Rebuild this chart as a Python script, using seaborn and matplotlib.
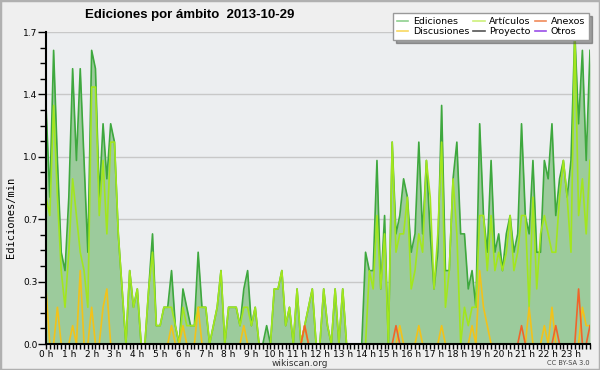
"""Ediciones por ámbito - wikiscan 2013-10-29"""
import numpy as np
import pandas as pd
import matplotlib
matplotlib.use('Agg')
import matplotlib.pyplot as plt
from matplotlib.lines import Line2D
from matplotlib.patches import Rectangle
from matplotlib.ticker import MultipleLocator, FixedLocator
import seaborn as sns

# ediciones por minuto, intervalos de 10 min (144 puntos)
ediciones = [
    1.3, 0.8, 1.6, 1.0, 0.5, 0.4, 0.8, 1.5, 1.0, 1.5, 1.0, 0.5, 1.6, 1.5, 0.8, 1.2, 0.9, 1.2, 1.1, 0.6, 0.3, 0.0, 0.4, 0.2,
    0.3, 0.0, 0.0, 0.3, 0.6, 0.1, 0.1, 0.2, 0.2, 0.4, 0.1, 0.0, 0.3, 0.2, 0.1, 0.1, 0.5, 0.2, 0.2, 0.0, 0.1, 0.2, 0.4, 0.0,
    0.2, 0.2, 0.2, 0.1, 0.3, 0.4, 0.1, 0.2, 0.0, 0.0, 0.1, 0.0, 0.3, 0.3, 0.4, 0.1, 0.2, 0.0, 0.3, 0.0, 0.1, 0.2, 0.3, 0.0,
    0.0, 0.3, 0.1, 0.0, 0.3, 0.0, 0.3, 0.0, 0.0, 0.0, 0.0, 0.0, 0.5, 0.4, 0.4, 1.0, 0.3, 0.7, 0.0, 1.1, 0.6, 0.7, 0.9, 0.8,
    0.5, 0.6, 1.1, 0.6, 1.0, 0.6, 0.3, 0.5, 1.3, 0.4, 0.4, 0.9, 1.1, 0.6, 0.6, 0.3, 0.4, 0.2, 1.2, 0.7, 0.5, 1.0, 0.5, 0.6,
    0.4, 0.6, 0.7, 0.5, 0.6, 1.2, 0.7, 0.6, 1.0, 0.5, 0.5, 1.0, 0.9, 1.2, 0.7, 0.9, 1.0, 0.8, 1.0, 1.7, 1.2, 1.6, 1.0, 1.6,
]
articulos = [
    0.8, 0.7, 1.3, 0.8, 0.4, 0.2, 0.5, 0.9, 0.7, 0.5, 0.4, 0.2, 1.4, 1.4, 0.7, 1.0, 0.6, 1.1, 1.1, 0.6, 0.3, 0.0, 0.4, 0.2,
    0.3, 0.0, 0.0, 0.3, 0.5, 0.1, 0.1, 0.2, 0.2, 0.2, 0.1, 0.0, 0.2, 0.1, 0.1, 0.1, 0.2, 0.2, 0.2, 0.0, 0.1, 0.2, 0.4, 0.0,
    0.2, 0.2, 0.2, 0.1, 0.2, 0.2, 0.1, 0.2, 0.0, 0.0, 0.0, 0.0, 0.3, 0.3, 0.4, 0.1, 0.2, 0.0, 0.3, 0.0, 0.1, 0.2, 0.3, 0.0,
    0.0, 0.3, 0.1, 0.0, 0.3, 0.0, 0.3, 0.0, 0.0, 0.0, 0.0, 0.0, 0.0, 0.4, 0.3, 0.7, 0.3, 0.6, 0.0, 1.1, 0.5, 0.6, 0.6, 0.8,
    0.3, 0.4, 0.6, 0.5, 1.0, 0.8, 0.3, 0.6, 1.1, 0.2, 0.4, 0.9, 0.6, 0.0, 0.2, 0.1, 0.2, 0.2, 0.7, 0.7, 0.4, 0.7, 0.4, 0.5,
    0.4, 0.5, 0.7, 0.4, 0.5, 0.7, 0.7, 0.2, 0.8, 0.3, 0.6, 0.7, 0.6, 0.5, 0.5, 0.8, 1.0, 0.8, 0.5, 1.7, 0.7, 0.9, 0.6, 1.0,
]
discusiones_idx = [0, 3, 7, 9, 12, 15, 16, 33, 36, 40, 52, 68, 93, 98, 104, 112, 114, 115, 116, 127, 131, 133, 141, 142, 143]
discusiones_val = [0.3, 0.2, 0.1, 0.4, 0.2, 0.2, 0.3, 0.1, 0.1, 0.2, 0.1, 0.1, 0.1, 0.1, 0.1, 0.1, 0.4, 0.2, 0.1, 0.2, 0.1, 0.2, 0.2, 0.1, 0.1]
anexos_idx = [68, 92, 125, 134, 140, 143]
anexos_val = [0.1, 0.1, 0.1, 0.1, 0.3, 0.1]

series = ['Proyecto', 'Otros', 'Ediciones', 'Artículos', 'Discusiones', 'Anexos']
colores = {
    'Ediciones': '#3ea83e',
    'Artículos': '#a2e61e',
    'Anexos': '#f0642a',
    'Discusiones': '#f2c21a',
    'Proyecto': '#555555',
    'Otros': '#9a4ee8',
}
colores_leyenda = {
    'Ediciones': '#8fd08f',
    'Artículos': '#cdf07a',
    'Anexos': '#f08a5a',
    'Discusiones': '#f8d860',
    'Proyecto': '#555555',
    'Otros': '#9a4ee8',
}

n = len(ediciones)
horas = np.arange(n) / 6.0
discusiones = np.zeros(n)
discusiones[discusiones_idx] = discusiones_val
anexos = np.zeros(n)
anexos[anexos_idx] = anexos_val

df = pd.DataFrame({
    'hora': np.tile(horas, 6),
    'valor': np.concatenate([np.zeros(n), np.zeros(n), ediciones, articulos, discusiones, anexos]),
    'serie': np.repeat(series, n),
})

fig = plt.figure(figsize=(6.0, 3.7), dpi=100, facecolor='#efefef')
ax = fig.add_axes([46 / 600, 1 - 344 / 370, 544 / 600, 312 / 370])
ax.set_facecolor('#eceef0')

ax.fill_between(horas, ediciones, color='#9ccb9c', lw=0, zorder=1)
sns.lineplot(data=df, x='hora', y='valor', hue='serie', hue_order=series,
             palette=colores, linewidth=1.2, legend=False, ax=ax, zorder=2)

ax.set_xlim(0, horas[-1])
ax.set_ylim(0, 1.7)

# eje y
ax.yaxis.set_major_locator(FixedLocator(np.linspace(0, 1.7, 6)))
ax.yaxis.set_minor_locator(FixedLocator(np.linspace(0, 1.7, 21)))
ax.set_yticklabels([f'{v:.1f}' for v in np.linspace(0, 1.7, 6)])
ax.grid(axis='y', which='major', color='#c8c8c8', lw=1)
ax.set_axisbelow(True)

# eje x
ax.set_xticks(range(24))
ax.set_xticklabels([f'{h} h' for h in range(24)])
ax.xaxis.set_minor_locator(MultipleLocator(1 / 6))

ax.tick_params(axis='y', which='major', length=6, width=1, labelsize=6.5, pad=0, colors='black')
ax.tick_params(axis='y', which='minor', length=4, width=1)
ax.tick_params(axis='x', which='both', length=3.5, width=1, labelsize=6.5, pad=0.5)
for s in ['top', 'right']:
    ax.spines[s].set_visible(False)
for s in ['left', 'bottom']:
    ax.spines[s].set_color('black')
    ax.spines[s].set_linewidth(1.5)
    ax.spines[s].set_zorder(5)

ax.set_xlabel('')
ax.set_ylabel('')
fig.text(11 / 600, 1 - 217 / 370, 'Ediciones/min', family='DejaVu Sans Mono', fontsize=7.5,
         rotation=90, ha='center', va='center')

fig.text(85 / 600, 1 - 15 / 370, 'Ediciones por ámbito  2013-10-29',
         family='Liberation Sans', fontsize=9.5, fontweight='bold', va='center', ha='left')
fig.text(0.5, 1 - 363 / 370, 'wikiscan.org', fontsize=6.5, color='#333333', ha='center', va='center')
fig.text(590 / 600, 1 - 363 / 370, 'CC BY-SA 3.0', fontsize=4.8, color='#444444', ha='right', va='center')

orden = ['Ediciones', 'Discusiones', 'Artículos', 'Proyecto', 'Anexos', 'Otros']
handles = [Line2D([], [], color=colores_leyenda[k], lw=1.2) for k in orden]
leg = fig.legend(handles, orden, loc='upper right', bbox_to_anchor=(594 / 600, 1 - 8 / 370),
                 ncol=3, fontsize=6.8, frameon=True, fancybox=False, shadow=True,
                 handlelength=1.2, handletextpad=0.5, columnspacing=0.4,
                 labelspacing=0.1, borderpad=0.45)
leg.get_frame().set_edgecolor('#999999')
leg.get_frame().set_facecolor('white')

fig.patches.append(Rectangle((0, 0), 1, 1, transform=fig.transFigure, fill=False,
                             edgecolor='#b0b0b0', lw=2.5))

fig.savefig('out.png', dpi=100, facecolor=fig.get_facecolor())
